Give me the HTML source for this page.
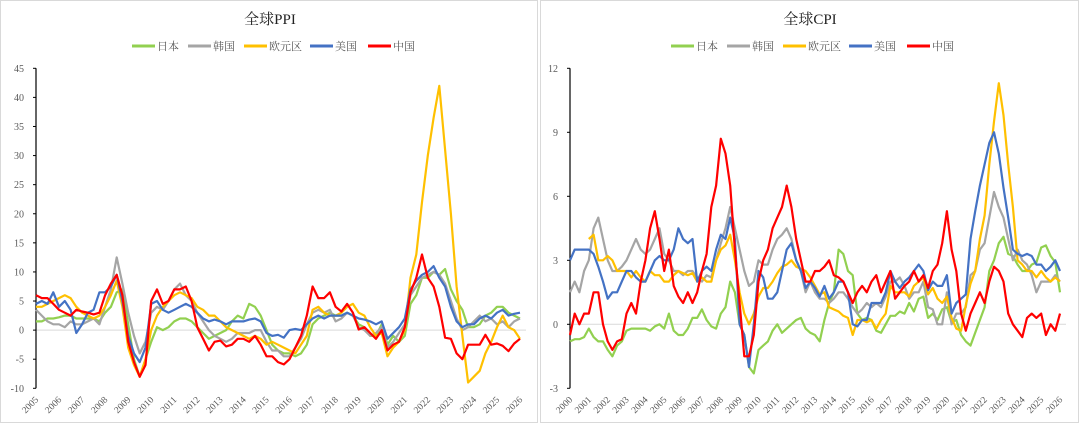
<!DOCTYPE html>
<html><head><meta charset="utf-8">
<style>
html,body{margin:0;padding:0;background:#fff;}
svg{display:block;font-family:"Liberation Serif","Noto Serif CJK SC",serif;}
</style></head>
<body>
<svg id="chart" width="1080" height="424" viewBox="0 0 1080 424" xmlns="http://www.w3.org/2000/svg">
<rect x="0.5" y="0.5" width="537" height="422" fill="#fff" stroke="#d9d9d9"/>
<rect x="540.5" y="0.5" width="538" height="422" fill="#fff" stroke="#d9d9d9"/>
<text x="270" y="24" text-anchor="middle" font-size="15" fill="#222">全球PPI</text>
<text x="810" y="24" text-anchor="middle" font-size="15" fill="#222">全球CPI</text>
</svg>
<script>
// ---------- data ----------
const seriesNames = ["日本","韩国","欧元区","美国","中国"];
const seriesColors = ["#92d050","#a5a5a5","#ffc000","#4472c4","#ff0000"];

// PPI: quarterly, 2005.00 .. 2026.00
const ppiStart = 2005, ppiStep = 0.25;
const ppiJapan = [1.5,1.5,2,2, 2.2,2.5,2.5,2, 2,2,2,1.5, 3,4,6.5,7, 1,-5,-8,-5, -2,0.5,0,0.5, 1.5,2,2,1.5, 0.5,-0.5,-1.5,-1, -0.5,0,1.5,2.5, 2,4.5,4,2.5, 0,-2.5,-3.5,-4, -4,-4.5,-4,-2.5, 1,2,2.5,3, 2.5,2.5,3,2.5, 1,0.5,-1,-1, 1,-2.5,-1,-2, -1,4.5,6,9, 9,10,9.5,10.5, 7,5,3.5,0.5, 0.5,1,2.5,3, 4,4,3,2.5, 2];
const ppiKorea = [3.5,2.5,1.5,1, 1,0.5,1.5,1, 1,1.5,2,1, 4,7,12.5,8, 3,-1,-4,-2, 3,4,3.5,5, 7,8,6,5, 3,1.5,0,-1, -1.5,-2,-1.5,-0.5, -0.5,-0.5,0,0, -2,-3.5,-3.5,-4.5, -4.5,-3,-1.5,1, 3,3.5,3,3.5, 1.5,2,3,2.5, 0.5,0,-1,-0.5, 0.5,-3,-2,-0.5, 1,6,7.5,9, 9.5,10,9.5,8, 5,2,0,0.5, 1.5,2.5,1.5,2, 1,1.5,0.5,1.5, 2];
const ppiEuro = [4,4,4.5,5, 5.5,6,5.5,4, 3,2.5,2,2.5, 4,6,8.5,4, -3,-6,-8,-5, 0,2.5,4,5, 6,6.5,6,5.5, 4,3.5,2.5,2.5, 1.5,0.5,0,-0.5, -1,-1.5,-1,-1.5, -2.5,-2,-2.5,-3, -3.5,-4,-2.5,-1, 3.5,4,3,2.5, 2.5,3,4,4.5, 3,2.5,0.5,-1, -0.5,-4.5,-3,-2, 0,9,13,22, 30,36.5,42,31, 20,7.5,-1,-9, -8,-7,-4,-2, 0.5,2.5,0.5,0, -1.5];
const ppiUS = [4.5,5,4.5,6.5, 4,5,3.5,-0.5, 1,3,3.5,6.5, 6.5,7.5,9.5,5, -1,-4,-5.5,-3, 4.5,5,3.5,3, 3.5,4,4.5,4, 3,2,1.5,1.8, 1.5,1,1.5,1.5, 1.5,1.8,2,1.5, -0.5,-1,-0.8,-1.3, 0,0.2,0,1, 2,2.5,2,2.5, 2.5,2.5,3,2.5, 2,1.8,1.5,1, 1.5,-1.5,-0.5,0.5, 2,7,8.5,9.5, 10,11,9,7.5, 4,1.5,0.5,1, 1,2,2.5,2, 3,3.5,2.5,2.8, 3];
const ppiChina = [6,5.5,5.5,4.5, 3.5,3,2.5,3.5, 3.2,3,2.7,3, 6,8,9.5,6, -2,-5.5,-8,-6, 5,7,4.5,5, 7,7,7.5,5, 0.5,-1.5,-3.5,-2, -1.8,-2.8,-2.5,-1.5, -1.5,-2,-1,-2.5, -4.5,-4.5,-5.5,-5.9, -5,-3,-1,2.5, 7.5,5.5,5.5,6.5, 4,3.2,4.5,3, 0.1,0.5,-0.5,-1.5, 0,-3.5,-2.5,-2, 0.5,6.5,9,13, 9,7.5,4,-1.3, -1.5,-4,-5,-2.5, -2.5,-2.5,-0.8,-2.5, -2.3,-2.7,-3.6,-2.3, -1.5];
const ppiTicks = [-10,-5,0,5,10,15,20,25,30,35,40,45];
const ppiYears = [2005,2006,2007,2008,2009,2010,2011,2012,2013,2014,2015,2016,2017,2018,2019,2020,2021,2022,2023,2024,2025,2026];

// CPI: quarterly, 2000.00 .. 2026.00 (null = no data)
const cpiStart = 2000, cpiStep = 0.25;
const cpiJapan = [-0.8,-0.7,-0.7,-0.6, -0.2,-0.6,-0.8,-0.8, -1.2,-1.5,-1,-0.8, -0.3,-0.2,-0.2,-0.2, -0.2,-0.3,-0.1,0, -0.2,0.5,-0.3,-0.5, -0.5,-0.2,0.3,0.3, 0.7,0.2,-0.1,-0.2, 0.5,0.8,2,1.5, 0,-0.5,-2,-2.3, -1.2,-1,-0.8,-0.3, 0,-0.4,-0.2,0, 0.2,0.3,-0.2,-0.4, -0.5,-0.8,0.2,1, 1.5,3.5,3.3,2.5, 2.3,0.5,0.2,0.3, 0.2,-0.3,-0.4,0, 0.4,0.4,0.6,0.5, 1,0.6,1.2,1.3, 0.3,0.5,0.2,0.7, 0.8,0.1,0.2,-0.5, -0.8,-1,-0.4,0.2, 0.8,2.5,3,3.8, 4.1,3.3,3.2,2.8, 2.5,2.5,2.8,2.9, 3.6,3.7,3.2,2.9, 1.5];
const cpiKorea = [1.5,2,1.5,2.5, 3,4.5,5,4, 3,2.5,2.5,2.7, 3,3.5,4,3.5, 3.3,3.5,4,4.5, 3.3,3,2.5,2.5, 2.3,2.5,2.5,2.2, 2,2.3,2.2,3, 3.8,4.5,5.5,4.5, 3.5,2.5,1.8,2, 3,2.8,2.8,3.5, 4,4.2,4.5,4, 3,2.5,1.5,2, 1.5,1.2,1.2,1, 1.2,1.5,1.5,1.2, 0.8,0.5,0.7,1, 0.8,1,0.8,1.3, 2,2,2.2,1.8, 1.2,1.5,1.5,2, 0.8,0.7,0,0, 1.5,0,0.5,0.5, 0.8,2.3,2.5,3.5, 3.8,5,6.2,5.5, 5,4,3,3.5, 3,2.8,2.3,1.5, 2,2,2,2.3, 2];
const cpiEuro = [null,null,null,null, 4,4.2,3,3, 3.2,3,2.5,2.5, 2.5,2.2,2.5,2.2, 2,2.5,2.3,2.3, 2,2,2.3,2.5, 2.4,2.3,2.4,2, 2.2,2,2,3, 3.5,3.7,4.2,3, 1.5,0.5,0,0.5, 1.3,1.7,1.7,2, 2.4,2.7,2.8,3, 2.7,2.6,2.5,2.2, 1.8,1.4,1.5,0.8, 0.7,0.6,0.4,0.3, -0.5,0.2,0.2,0.1, 0.2,-0.2,0.2,0.5, 1.8,1.5,1.5,1.5, 1.3,1.8,2,2.2, 1.4,1.7,1.2,1, 1.3,0.3,-0.2,-0.3, 0.9,1.9,2.5,4, 5.1,7.5,9.5,11.3, 9.8,7.5,5.5,3, 2.8,2.5,2.5,2.2, 2.5,2.2,2,2.2, 2];
const cpiUS = [3,3.5,3.5,3.5, 3.5,3.3,2.7,2, 1.2,1.5,1.5,2, 2.5,2.5,2.2,2, 2,2.5,3,3.2, 3,3,3.5,4.5, 4,3.8,4,2, 2.5,2.7,2.5,3.5, 4.2,4,5,4, 0,-0.5,-2,0, 2.5,2.2,1.2,1.2, 1.5,2.5,3.5,3.8, 3,2.5,1.7,2, 1.7,1.3,1.8,1.2, 1.5,2,2,1.5, 0,-0.1,0.2,0.2, 1,1,1,1.5, 2.5,2,1.7,2, 2.2,2.5,2.8,2.5, 1.6,2,1.8,1.8, 2.3,0.5,1,1.2, 1.4,4,5.3,6.5, 7.5,8.5,9,8, 6.4,5,3.5,3.3, 3.2,3.3,3.2,2.8, 2.8,2.5,2.7,3, 2.5];
const cpiChina = [-0.5,0.5,0,0.5, 0.5,1.5,1.5,0, -0.8,-1.2,-0.8,-0.7, 0.5,1,0.5,2, 3,4.5,5.3,4, 2.5,3.5,1.8,1.3, 1,1.5,1,1.5, 2.5,3.3,5.5,6.5, 8.7,8,6.5,3.5, 1,-1.5,-1.5,-0.5, 2,3,3.5,4.5, 5,5.5,6.5,5.5, 4,3,2,2, 2.5,2.5,2.7,3, 2.3,2.2,2,1.5, 1,1.5,1.8,1.5, 2,2.3,1.5,2, 2.5,1.2,1.5,1.8, 2,2.5,2,2.3, 1.7,2.5,2.8,3.8, 5.3,3.5,2.5,0.5, -0.3,0.5,1,1.5, 1,2,2.7,2.5, 2,0.5,0,-0.3, -0.6,0.3,0.5,0.3, 0.5,-0.5,0,-0.3, 0.5];
const cpiTicks = [-3,0,3,6,9,12];
const cpiYears = [2000,2001,2002,2003,2004,2005,2006,2007,2008,2009,2010,2011,2012,2013,2014,2015,2016,2017,2018,2019,2020,2021,2022,2023,2024,2025,2026];

// ---------- drawing ----------
const NS = "http://www.w3.org/2000/svg";
const svg = document.getElementById("chart");
function mk(tag, attrs){ const e=document.createElementNS(NS,tag); for(const k in attrs) e.setAttribute(k,attrs[k]); return e; }

function drawPanel(p){
  const xs = y => p.x0 + (y - p.yr0)/(p.yr1 - p.yr0)*(p.x1 - p.x0);
  const ys = v => p.yBot - (v - p.vMin)/(p.vMax - p.vMin)*(p.yBot - p.yTop);
  // zero line
  const z = mk("line",{x1:p.x0,x2:p.x1+6,y1:ys(0),y2:ys(0),stroke:"#d9d9d9","stroke-width":1});
  
  
  svg.appendChild(z);
  // y axis
  const ax = mk("line",{x1:p.x0,x2:p.x0,y1:p.yTop,y2:p.yBot,stroke:"#000","stroke-width":1.2});
  
  
  svg.appendChild(ax);
  p.ticks.forEach(t=>{
    const tk = mk("line",{x1:p.x0-3,x2:p.x0,y1:ys(t),y2:ys(t),stroke:"#000","stroke-width":1});
    
    
    svg.appendChild(tk);
    const tl = mk("text",{x:p.x0-12,y:ys(t)+3.5,"text-anchor":"end","font-size":10,fill:"#595959"});
    tl.textContent = t;
    
    
    svg.appendChild(tl);
  });
  p.years.forEach(yr=>{
    const x = xs(yr), y = p.yBot + 12;
    const tl = mk("text",{x:x+3,y:y,"text-anchor":"end","font-size":9.5,fill:"#595959",transform:`rotate(-45 ${x+3} ${y})`});
    tl.textContent = yr;
    
    
    svg.appendChild(tl);
  });
  // series
  p.series.forEach((vals,i)=>{
    let d="", pen=false;
    vals.forEach((v,j)=>{
      if(v===null){pen=false;return;}
      const x = xs(p.yr0 + j*p.step), y = ys(v);
      d += (pen?"L":"M")+x.toFixed(1)+" "+y.toFixed(1)+" ";
      pen=true;
    });
    const path = mk("path",{d:d,fill:"none",stroke:seriesColors[i],"stroke-width":2.2,"stroke-linejoin":"round"});
    
    
    svg.appendChild(path);
  });
  // legend
  const lx = p.legendX;
  const offs = [0,56,112,178,236];
  seriesNames.forEach((n,i)=>{
    const x = lx + offs[i];
    const ln = mk("line",{x1:x,x2:x+23,y1:46,y2:46,stroke:seriesColors[i],"stroke-width":3});
    
    
    svg.appendChild(ln);
    const tx = mk("text",{x:x+25,y:50,"font-size":11,fill:"#595959"});
    tx.textContent = n;
    
    
    svg.appendChild(tx);
  });
}

drawPanel({key:"ppi",x0:36,x1:520,yr0:ppiStart,yr1:2026,step:ppiStep,yTop:68.3,yBot:388.3,vMin:-10,vMax:45,
  ticks:ppiTicks,years:ppiYears,series:[ppiJapan,ppiKorea,ppiEuro,ppiUS,ppiChina],legendX:132});
drawPanel({key:"cpi",x0:570,x1:1060,yr0:cpiStart,yr1:2026,step:cpiStep,yTop:68.3,yBot:388.3,vMin:-3,vMax:12,
  ticks:cpiTicks,years:cpiYears,series:[cpiJapan,cpiKorea,cpiEuro,cpiUS,cpiChina],legendX:671});
</script>
</body></html>
